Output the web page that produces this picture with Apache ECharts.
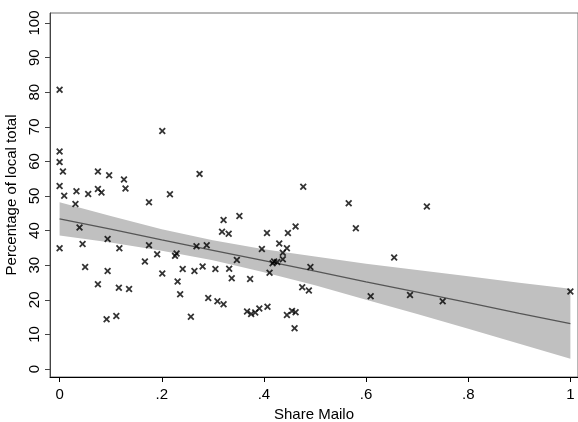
<!DOCTYPE html>
<html>
<head>
<meta charset="utf-8">
<script src="https://cdn.jsdelivr.net/npm/echarts@6/dist/echarts.min.js"></script>
<style>
  html, body { margin: 0; padding: 0; background: #ffffff; }
  #chart { width: 578px; height: 422px; }
</style>
</head>
<body>
<div id="chart"></div>
<script>
// Observations: share of Mailo land (x) vs. percentage of local total (y)
var shareMailo = [
  0, 0.201, 0, 0, 0.0065, 0.075, 0.097, 0.126, 0.129, 0,
  0.009, 0.033, 0.056, 0.075, 0.082, 0.175, 0.216, 0.031, 0.039, 0,
  0.045, 0.094, 0.117, 0.175, 0.191, 0.167, 0.226, 0.229, 0.050, 0.094,
  0.201, 0.075, 0.116, 0.136, 0.231, 0.236, 0.092, 0.111, 0.274, 0.321,
  0.352, 0.318, 0.331, 0.406, 0.447, 0.462, 0.268, 0.288, 0.347, 0.396,
  0.430, 0.445, 0.437, 0.420, 0.426, 0.417, 0.437, 0.411, 0.241, 0.264,
  0.280, 0.305, 0.332, 0.337, 0.373, 0.291, 0.309, 0.321, 0.367, 0.375,
  0.383, 0.391, 0.407, 0.445, 0.455, 0.462, 0.460, 0.257, 0.477, 0.566,
  0.580, 0.655, 0.491, 0.475, 0.488, 0.609, 0.686, 0.719, 1.0, 0.750
];
var pctLocal = [
  80.7, 68.8, 62.9, 59.8, 57.1, 57.1, 56.0, 54.8, 52.2, 52.9,
  50.1, 51.4, 50.6, 52.0, 51.0, 48.2, 50.5, 47.7, 40.9, 34.9,
  36.1, 37.6, 34.9, 35.8, 33.2, 31.1, 32.7, 33.4, 29.5, 28.3,
  27.6, 24.5, 23.5, 23.1, 25.3, 21.6, 14.4, 15.3, 56.4, 43.1,
  44.2, 39.7, 39.1, 39.3, 39.3, 41.2, 35.5, 35.8, 31.5, 34.7,
  36.3, 34.9, 33.6, 31.1, 30.9, 30.6, 31.7, 27.8, 28.9, 28.3,
  29.6, 28.9, 29.0, 26.2, 26.0, 20.5, 19.6, 18.7, 16.6, 15.9,
  16.3, 17.5, 18.0, 15.6, 16.8, 16.4, 11.8, 15.1, 52.7, 47.9,
  40.7, 32.2, 29.5, 23.6, 22.7, 21.0, 21.4, 47.0, 22.4, 19.6
];

// Fitted line with its confidence band
var fitX     = [0, 0.1, 0.2, 0.3, 0.4, 0.5, 0.6, 0.7, 0.8, 0.9, 1.0];
var fitY     = [43.4, 40.4, 37.3, 34.3, 31.3, 28.3, 25.2, 22.2, 19.2, 16.1, 13.1];
var ciUpper  = [48.2, 44.2, 40.4, 37.2, 34.6, 32.5, 30.4, 28.6, 26.8, 24.9, 23.2];
var ciLower  = [38.6, 36.6, 34.2, 31.4, 28.0, 24.2, 20.0, 15.9, 11.6, 7.3, 3.0];

// Tick labels
var xTicks = [0, 0.2, 0.4, 0.6, 0.8, 1];
var xTickLabels = ['0', '.2', '.4', '.6', '.8', '1'];
var yTicks = [0, 10, 20, 30, 40, 50, 60, 70, 80, 90, 100];

var FONT = '"Liberation Sans", Arial, sans-serif';
// bold "x" marker
var crossPath = 'path://M0,1.8 L1.8,0 L5,3.2 L8.2,0 L10,1.8 L6.8,5 L10,8.2 L8.2,10 L5,6.8 L1.8,10 L0,8.2 L3.2,5 Z';

var points = shareMailo.map(function (x, i) { return [x, pctLocal[i]]; });
var fitLine = fitX.map(function (x, i) { return [x, fitY[i]]; });

var chart = echarts.init(document.getElementById('chart'), null, { renderer: 'canvas' });

chart.setOption({
  animation: false,
  backgroundColor: '#ffffff',
  grid: {
    left: 50, top: 13, right: 0, bottom: 45,
    outerBoundsMode: 'none',
    containLabel: false,
    show: true, borderColor: '#6e6e6e', borderWidth: 1, backgroundColor: '#ffffff'
  },
  xAxis: {
    type: 'value',
    min: -0.0188, max: 1.0149,
    name: 'Share Mailo',
    nameLocation: 'middle',
    nameGap: 23,
    nameTextStyle: { fontFamily: FONT, fontSize: 15, color: '#000' },
    axisLine: { show: true, onZero: false, lineStyle: { color: '#000', width: 1 } },
    axisTick: { show: true, length: 5, customValues: xTicks, lineStyle: { color: '#000' } },
    axisLabel: {
      show: true, customValues: xTicks, margin: 10,
      fontFamily: FONT, fontSize: 15, color: '#000',
      formatter: function (v) {
        var idx = xTicks.indexOf(Math.round(v * 10) / 10);
        return idx >= 0 ? xTickLabels[idx] : '';
      }
    },
    splitLine: { show: false }
  },
  yAxis: {
    type: 'value',
    min: -2.31, max: 102.9,
    name: 'Percentage of local total',
    nameLocation: 'middle',
    nameGap: 26,
    nameTextStyle: { fontFamily: FONT, fontSize: 15, color: '#000' },
    axisLine: { show: true, onZero: false, lineStyle: { color: '#444', width: 1 } },
    axisTick: { show: true, length: 5, customValues: yTicks, lineStyle: { color: '#444' } },
    axisLabel: {
      show: true, customValues: yTicks, rotate: 90, margin: 8,
      fontFamily: FONT, fontSize: 15, color: '#000'
    },
    splitLine: { show: false }
  },
  series: [
    {
      // confidence band drawn as a polygon through the axis scales
      type: 'custom',
      silent: true,
      z: 1,
      data: [0],
      renderItem: function (params, api) {
        var pts = [];
        for (var i = 0; i < fitX.length; i++) pts.push(api.coord([fitX[i], ciUpper[i]]));
        for (var j = fitX.length - 1; j >= 0; j--) pts.push(api.coord([fitX[j], ciLower[j]]));
        return {
          type: 'polygon',
          shape: { points: pts },
          style: { fill: '#c0c0c0', stroke: null }
        };
      }
    },
    {
      type: 'line',
      data: fitLine,
      z: 2,
      symbol: 'none',
      silent: true,
      lineStyle: { color: '#555555', width: 1.3 }
    },
    {
      type: 'scatter',
      data: points,
      z: 3,
      symbol: crossPath,
      symbolSize: 7,
      itemStyle: { color: '#000000' },
      silent: true
    }
  ]
});
</script>
</body>
</html>
